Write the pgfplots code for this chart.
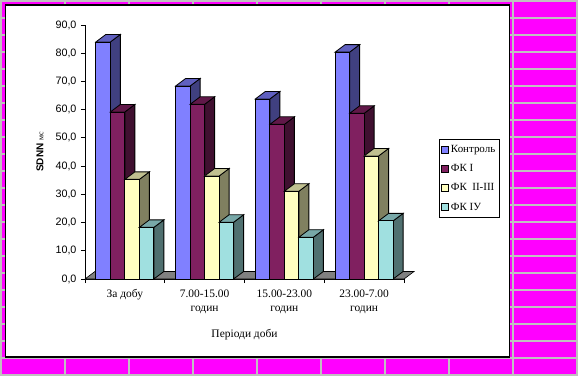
\documentclass[border=0pt]{standalone}
\usepackage{fontspec}
\setmainfont{Liberation Serif}
\setsansfont{Liberation Sans}
\usepackage{pgfplots}
\usepackage{pgfplotstable}
\pgfplotsset{compat=1.18}

\definecolor{gridc}{HTML}{C0C0C0}
\definecolor{bgmag}{HTML}{FF00FF}
\definecolor{floorc}{HTML}{808080}
\definecolor{c1f}{HTML}{8080FF}\definecolor{c1t}{HTML}{6060C0}\definecolor{c1s}{HTML}{404080}
\definecolor{c2f}{HTML}{802060}\definecolor{c2t}{HTML}{601848}\definecolor{c2s}{HTML}{401030}
\definecolor{c3f}{HTML}{FFFFC0}\definecolor{c3t}{HTML}{C0C090}\definecolor{c3s}{HTML}{808060}
\definecolor{c4f}{HTML}{A0E0E0}\definecolor{c4t}{HTML}{78A8A8}\definecolor{c4s}{HTML}{507070}

% data: x = period index, y = SDNN
\pgfplotstableread{
x y
0 84.0
1 68.4
2 63.8
3 80.4
}\tA
\pgfplotstableread{
x y
0 59.2
1 61.9
2 54.8
3 58.7
}\tB
\pgfplotstableread{
x y
0 35.3
1 36.5
2 31.1
3 43.6
}\tC
\pgfplotstableread{
x y
0 18.3
1 20.1
2 14.8
3 20.6
}\tD

% 3D side and top faces of a bar, drawn as a plot mark at the bar top
\newcommand\declarebarmark[4]{%
  \pgfdeclareplotmark{#1}{%
    \pgfmathsetmacro\hh{\barh*2.822}%
    \pgfmathsetmacro\xl{#2-7.25}%
    \pgfmathsetmacro\xr{#2+7.25}%
    \pgfsetstrokecolor{black}%
    \pgfsetlinewidth{0.8bp}%
    \pgfsetfillcolor{#4}%
    \pgfpathmoveto{\pgfpoint{\xr bp}{0bp}}%
    \pgfpathlineto{\pgfpoint{\xr bp+10bp}{7.5bp}}%
    \pgfpathlineto{\pgfpoint{\xr bp+10bp}{7.5bp-\hh bp}}%
    \pgfpathlineto{\pgfpoint{\xr bp}{-\hh bp}}%
    \pgfpathclose
    \pgfusepath{fill,stroke}%
    \pgfsetfillcolor{#3}%
    \pgfpathmoveto{\pgfpoint{\xl bp}{0bp}}%
    \pgfpathlineto{\pgfpoint{\xr bp}{0bp}}%
    \pgfpathlineto{\pgfpoint{\xr bp+10bp}{7.5bp}}%
    \pgfpathlineto{\pgfpoint{\xl bp+10bp}{7.5bp}}%
    \pgfpathclose
    \pgfusepath{fill,stroke}%
  }}
\declarebarmark{barA}{-21.75}{c1t}{c1s}
\declarebarmark{barB}{-7.25}{c2t}{c2s}
\declarebarmark{barC}{7.25}{c3t}{c3s}
\declarebarmark{barD}{21.75}{c4t}{c4s}

\pgfplotsset{
  sqleg/.style={legend image code/.code={\draw[##1,draw=black,line width=0.6bp] (0bp,-3.5bp) rectangle (7bp,3.5bp);}},
  faces/.style={forget plot, scatter, only marks, mark=#1, point meta=y,
    visualization depends on={rawy \as \barh}},
  front/.style={ybar, bar width=14.5bp, bar shift=#1, draw=black, line width=0.8bp, sqleg},
}

\begin{document}
\begin{tikzpicture}
\useasboundingbox (0,0) rectangle (578bp,376bp);
\fill[bgmag] (0,0) rectangle (578bp,376bp);
\foreach \i in {0,...,9} \draw[gridc, line width=2bp] (64.05bp*\i+1bp,0) -- (64.05bp*\i+1bp,376bp);
\foreach \j in {0,...,22} \draw[gridc, line width=2bp] (0,376bp-17bp*\j-1bp) -- (578bp,376bp-17bp*\j-1bp);
\filldraw[fill=white,draw=black,line width=1.2bp] (5.5bp,19bp) rectangle (509.5bp,371bp);

\begin{axis}[
  at={(85bp,97bp)}, anchor=south west,
  x=79.75bp, y=2.822bp,
  xmin=-0.5, xmax=3.5, ymin=0, ymax=90,
  clip=false, clip marker paths=true,
  axis x line=bottom, axis y line=left,
  axis line style={-, black, line width=0.8bp},
  tick align=outside, major tick length=4bp,
  tick style={black, line width=0.8bp},
  xtick={-0.5,0.5,1.5,2.5,3.5}, xticklabels={},
  extra x ticks={0,1,2,3},
  extra x tick labels={За добу, {7.00-15.00\\годин}, {15.00-23.00\\годин}, {23.00-7.00\\годин}},
  extra x tick style={major tick length=0pt,
    tick label style={font=\fontsize{11.5}{14}\selectfont, align=center, anchor=north, yshift=-7bp}},
  ytick={0,10,...,90},
  yticklabel style={font=\sffamily\fontsize{10.8}{12}\selectfont, xshift=-1bp,
    /pgf/number format/.cd, fixed, fixed zerofill, precision=1, use comma, assume math mode=true},
  xlabel={Періоди доби},
  xlabel style={font=\fontsize{11.5}{13}\selectfont, yshift=-5bp},
  ylabel={{\sffamily\bfseries SDNN} {\fontsize{8}{9}\selectfont мс}},
  ylabel style={font=\fontsize{10}{12}\selectfont},
  every axis y label/.style={at={(axis description cs:-0.141,0.5)}, rotate=90, anchor=center},
  legend style={at={(1.1097,0.5512)}, anchor=north west, draw=black, line width=0.8bp,
    font=\fontsize{11}{13}\selectfont, inner xsep=2bp, inner ysep=4bp, row sep=6.5bp,
    cells={anchor=west}},
]
\addplot[forget plot, fill=floorc, draw=black, line width=0.6bp] coordinates {(-0.5,0) (3.5,0) (3.62539,2.6577) (-0.37461,2.6577)} -- cycle;

\addplot[faces=barA] table[x=x,y=y] {\tA};
\addplot[front=-21.75bp, fill=c1f] table[x=x,y=y] {\tA};
\addlegendentry{Контроль}
\addplot[faces=barB] table[x=x,y=y] {\tB};
\addplot[front=-7.25bp, fill=c2f] table[x=x,y=y] {\tB};
\addlegendentry{ФК I}
\addplot[faces=barC] table[x=x,y=y] {\tC};
\addplot[front=7.25bp, fill=c3f] table[x=x,y=y] {\tC};
\addlegendentry{ФК\ \ II-III}
\addplot[faces=barD] table[x=x,y=y] {\tD};
\addplot[front=21.75bp, fill=c4f] table[x=x,y=y] {\tD};
\addlegendentry{ФК IУ}
\end{axis}
\end{tikzpicture}
\end{document}
